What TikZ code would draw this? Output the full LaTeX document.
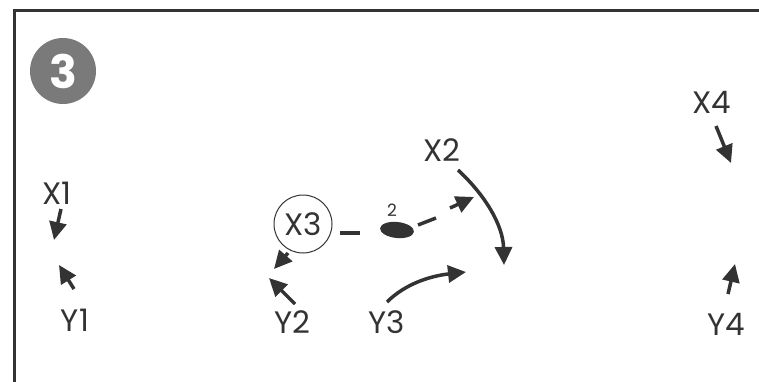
\documentclass[tikz,border=0pt]{standalone}
\usepackage{fontspec}
\setmainfont{Poppins}
\usetikzlibrary{arrows.meta,shapes.geometric}
\definecolor{ink}{HTML}{333333}
\definecolor{badge}{HTML}{7A7A7A}
\tikzset{
  lbl/.style={inner sep=0pt,text=ink,font=\fontsize{31}{31}\selectfont},
  arr/.style={draw=ink,line width=3.5pt,-{Triangle[length=18pt,width=17pt]}},
  seg/.style={draw=ink,line width=3.5pt},
}
\begin{document}
\begin{tikzpicture}[x=1pt,y=-1pt]
\useasboundingbox (0,0) rectangle (759,381);
% frame
\draw[ink,line width=3pt] (14,395) -- (14,10) -- (775,10);
% badge
\node[circle,fill=badge,minimum size=66pt,inner sep=0pt,text=white,font=\fontsize{46}{46}\selectfont\bfseries] (badge) at (63,71) {3};
% labels
\node[lbl] (x1) at (57,193) {X1};
\node[lbl] (y1) at (75,320) {Y1};
\node[lbl] (x2) at (442,150) {X2};
\node[circle,draw=ink,line width=1pt,minimum size=58pt,inner sep=0pt,text=ink,font=\fontsize{31}{31}\selectfont] (x3) at (303,224) {X3};
\node[lbl] (x4) at (712,102) {X4};
\node[lbl] (y2) at (292,322) {Y2};
\node[lbl] (y3) at (387,322) {Y3};
\node[lbl] (y4) at (726,324) {Y4};
% blob
\node[ellipse,fill=ink,minimum width=34pt,minimum height=16pt,inner sep=0pt,rotate=-6] (blob) at (397,230) {};
\node[inner sep=0pt,text=ink,font=\fontsize{17}{17}\selectfont] (two) at (392,210) {2};
% coordinates
\coordinate (x1a) at (61,209);
\coordinate (x1b) at (54,240);
\coordinate (y1a) at (74,289);
\coordinate (y1b) at (59,265);
\coordinate (x3a) at (288,253);
\coordinate (x3b) at (274,269);
\coordinate (y2a) at (295,304);
\coordinate (y2b) at (269,278);
\coordinate (y3a) at (387,302);
\coordinate (y3b) at (466,272);
\coordinate (x2a) at (458,170);
\coordinate (x2b) at (504,265);
\coordinate (x4a) at (716,126);
\coordinate (x4b) at (731,163);
\coordinate (y4a) at (728,294);
\coordinate (y4b) at (735,264);
\coordinate (d1) at (340,233);
\coordinate (d2) at (360,233);
\coordinate (d3) at (418,225);
\coordinate (d4) at (436,218);
\coordinate (dt) at (474,197);
\coordinate (ds) at (450,208);
% connectors
\draw[arr] (x1a) -- (x1b);
\draw[arr] (y1a) -- (y1b);
\draw[arr] (x3a) -- (x3b);
\draw[arr] (y2a) -- (y2b);
\draw[arr] (y3a) .. controls (405,284) and (430,276) .. (y3b);
\draw[arr] (x2a) .. controls (485,195) and (503,225) .. (x2b);
\draw[arr] (x4a) -- (x4b);
\draw[arr] (y4a) -- (y4b);
\draw[seg] (d1) -- (d2);
\draw[seg] (d3) -- (d4);
\draw[arr] (ds) -- (dt);
\end{tikzpicture}
\end{document}
